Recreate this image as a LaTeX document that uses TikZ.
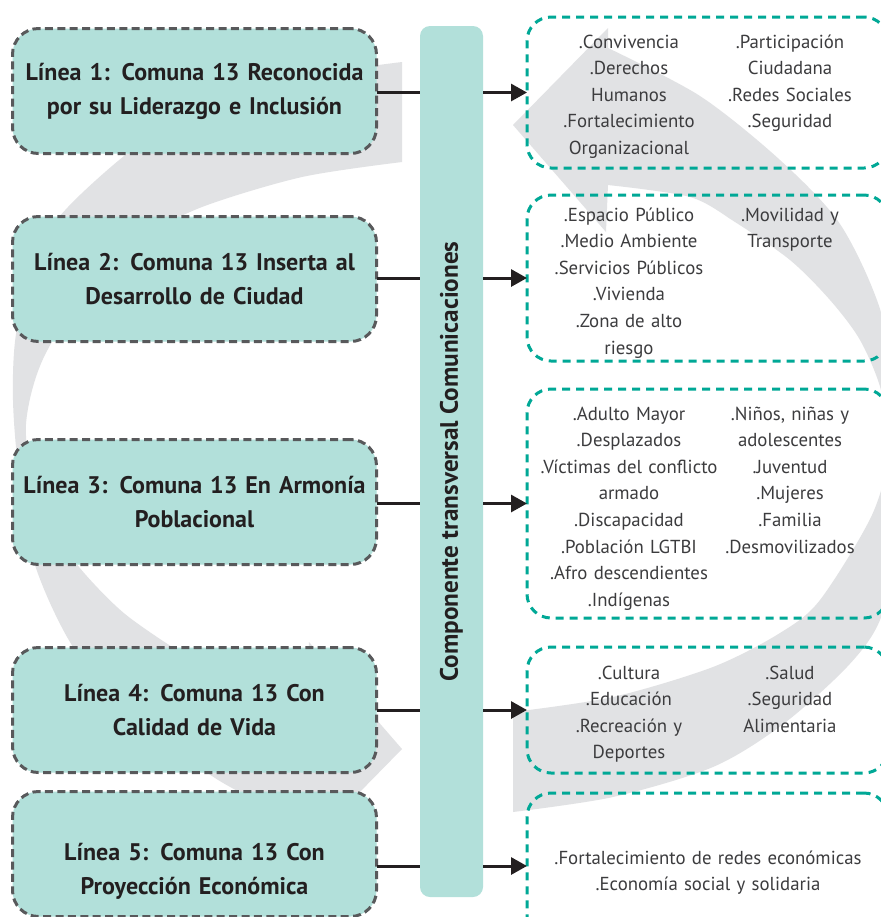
\documentclass[tikz,border=0pt]{standalone}
\usepackage{fontspec}
\setmainfont{PT Sans}
\usepackage{graphicx}
\usetikzlibrary{arrows.meta, positioning}
\definecolor{hdrteal}{RGB}{178,224,218}
\definecolor{myteal}{RGB}{0,168,150}
\definecolor{boxgrey}{RGB}{88,89,91}
\definecolor{mydark}{RGB}{35,31,32}
\definecolor{itemgrey}{RGB}{60,60,62}
\definecolor{cyclegrey}{RGB}{225,226,228}
\tikzset{
  linebox/.style={rectangle, draw=boxgrey, fill=hdrteal,
    dash pattern=on 4pt off 2.2pt, line width=1.5pt, rounded corners=13pt,
    text width=178pt, inner xsep=2pt, outer sep=0pt, align=center,
    minimum width=182pt, minimum height=62.5pt,
    font=\fontsize{12}{17}\selectfont\bfseries, text=mydark},
  areabox/.style={rectangle, draw=myteal, dash pattern=on 4pt off 3pt,
    line width=1.5pt, rounded corners=12pt, outer sep=0pt, minimum width=180.5pt},
  crossbar/.style={rectangle, fill=hdrteal, rounded corners=5pt,
    minimum width=31.5pt, minimum height=435.5pt, inner sep=0pt, outer sep=0pt,
    font=\fontsize{12.6}{14}\selectfont\bfseries, text=mydark},
  items/.style={text width=#1, align=center, inner sep=0pt, anchor=base,
    font=\fontsize{9.4}{13.3}\selectfont, text=itemgrey},
  items/.default=100pt,
  line/.style={line width=1.5pt, color=mydark},
  arrow/.style={-{Triangle[length=8pt, width=8.5pt]}, line width=1.5pt, color=mydark}
}
\begin{document}
\begin{tikzpicture}[x=0.5pt, y=-0.5pt]
\fill[white] (0,0) rectangle (881,917);
\useasboundingbox (0,0) rectangle (881,917);

% grey cycle behind everything
\foreach \ang in {0,180}
  \fill[cyclegrey, rotate around={\ang:(457.5,437)}]
    (513,712) -- (513,812)
    -- plot[smooth] coordinates {(513,812) (613,797) (713,767) (782,725) (847,667) (880,620) (899,540) (902,474) (896,400) (880,309) (840,224) (780,160) (700,96) (608,48)}
    -- (608,28) -- (513,125) -- (606,232) -- (608,185)
    -- plot[smooth] coordinates {(608,185) (690,197) (735,222) (790,260) (830,300) (860,340) (881,390) (889,450) (872,515) (820,600) (780,633) (713,667) (613,697) (513,712)}
    -- cycle;

% strategic lines
\node[linebox] (l1) at (194.5,91) {Línea 1: Comuna 13 Reconocida\\por su Liderazgo e Inclusión};
\node[linebox, below=31.5pt of l1] (l2) {Línea 2: Comuna 13 Inserta al\\Desarrollo de Ciudad};
\node[linebox, below=49pt of l2] (l3) {Línea 3: Comuna 13 En Armonía\\Poblacional};
\node[linebox, below=41.5pt of l3] (l4) {Línea 4: Comuna 13 Con\\Calidad de Vida};
\node[linebox, below=9.5pt of l4, text height=26pt] (l5) {Línea 5: Comuna 13 Con\\Proyección Económica};

% transversal component
\node[crossbar] (bar) at (451.5,461.5) {\rotatebox{90}{Componente transversal Comunicaciones}};

% thematic areas
\node[areabox, minimum height=75.5pt] (r1) at (707.5,92.5) {};
\node[areabox, minimum height=83pt] (r2) at (707.5,278) {};
\node[areabox, minimum height=114.5pt] (r3) at (707.5,503.5) {};
\node[areabox, minimum height=63pt] (r4) at (707.5,710) {};
\node[areabox, minimum height=73pt] (r5) at (707.5,866) {};

\node[items] (i1a) at (629,48) {.Convivencia\\.Derechos\\Humanos\\.Fortalecimiento\\Organizacional};
\node[items=75pt] (i1b) at (790,48) {.Participación\\Ciudadana\\.Redes Sociales\\.Seguridad};
\node[items] (i2a) at (629,221) {.Espacio Público\\.Medio Ambiente\\.Servicios Públicos\\.Vivienda\\.Zona de alto\\riesgo};
\node[items=75pt] (i2b) at (790,221) {.Movilidad y\\Transporte};
\node[items] (i3a) at (629,420) {.Adulto Mayor\\.Desplazados\\.Víctimas del conflicto\\armado\\.Discapacidad\\.Población LGTBI\\.Afro descendientes\\.Indígenas};
\node[items=75pt] (i3b) at (790,420) {.Niños, niñas y\\adolescentes\\.Juventud\\.Mujeres\\.Familia\\.Desmovilizados};
\node[items] (i4a) at (629,679) {.Cultura\\.Educación\\.Recreación y\\Deportes};
\node[items=75pt] (i4b) at (790,679) {.Salud\\.Seguridad\\Alimentaria};
\node[items=170pt] (i5) at (708,864) {.Fortalecimiento de redes económicas\\.Economía social y solidaria};

% connectors
\foreach \i in {1,...,5}{
  \draw[line] (r\i.west -| l\i.east) -- (r\i.west -| bar.west);
  \draw[arrow] (r\i.west -| bar.east) -- (r\i.west);
}
\end{tikzpicture}
\end{document}
